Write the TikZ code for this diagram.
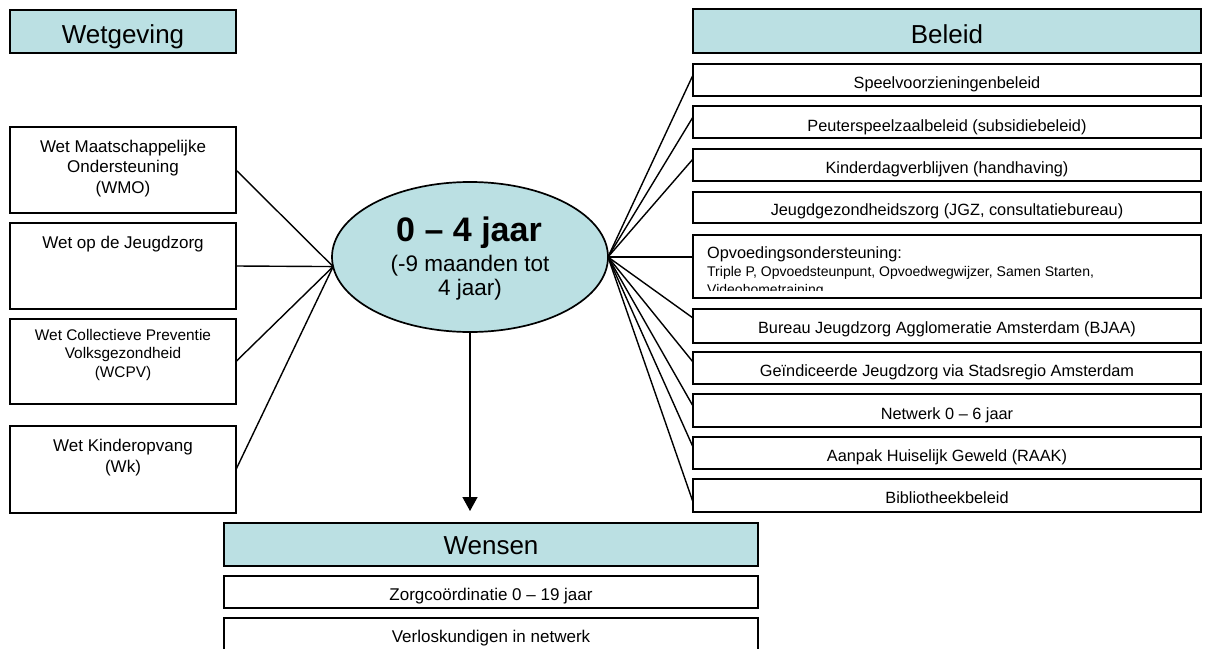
\documentclass[tikz,border=0pt]{standalone}
\usepackage{fontspec}
\setmainfont{Liberation Sans}
\usetikzlibrary{calc,arrows.meta,shapes.geometric}
\definecolor{headfill}{RGB}{187,224,227}
\newcommand{\mkbox}[6]{\node[#6, minimum width={(#4)-(#2)}, minimum height={(#5)-(#3)}] (#1) at ({((#2)+(#4))/2},{((#3)+(#5))/2}) {};}
\begin{document}
\begin{tikzpicture}[x=1pt,y=-1pt,
  plainbox/.style={draw=black, line width=1.7pt, fill=white, rectangle, inner sep=0pt, outer sep=0pt},
  headbox/.style={plainbox, fill=headfill},
  conn/.style={line width=1.4pt, black},
  hdtext/.style={anchor=base, inner sep=0pt, font=\fontsize{26}{30}\selectfont},
  lttext/.style={anchor=base, inner sep=0pt, align=center, font=\fontsize{17}{20.5}\selectfont},
  smtext/.style={anchor=base, inner sep=0pt, align=center, font=\fontsize{15.4}{18.5}\selectfont},
  rttext/.style={anchor=base, inner sep=0pt, font=\fontsize{16.3}{19}\selectfont},
  bttext/.style={anchor=base, inner sep=0pt, font=\fontsize{17}{20}\selectfont}]
\clip (0,0) rectangle (1231,648);
\fill[white] (0,0) rectangle (1231,648);

% headers
\mkbox{wet}{10}{10}{236}{53}{headbox}
\node[hdtext] (wet-t) at ($(wet.north)+(0,33)$) {Wetgeving};
\mkbox{bel}{693}{9}{1201}{53}{headbox}
\node[hdtext] (bel-t) at ($(bel.north)+(0,34)$) {Beleid};
\mkbox{wen}{224}{523}{758}{566}{headbox}
\node[hdtext] (wen-t) at ($(wen.north)+(0,31)$) {Wensen};

% left boxes (base anchor = baseline of last line)
\mkbox{wmo}{10}{127}{236}{213}{plainbox}
\node[lttext] (wmo-t) at ($(wmo.north)+(0,66)$) {Wet Maatschappelijke\\Ondersteuning\\(WMO)};
\mkbox{wjz}{10}{223}{236}{309}{plainbox}
\node[lttext] (wjz-t) at ($(wjz.north)+(0,25)$) {Wet op de Jeugdzorg};
\mkbox{wcpv}{10}{319}{236}{404}{plainbox}
\node[smtext] (wcpv-t) at ($(wcpv.north)+(0,58)$) {Wet Collectieve Preventie\\Volksgezondheid\\(WCPV)};
\mkbox{wk}{10}{426}{236}{513}{plainbox}
\node[lttext] (wk-t) at ($(wk.north)+(0,46)$) {Wet Kinderopvang\\(Wk)};

% right boxes
\mkbox{b1}{693}{64}{1201}{96}{plainbox}
\node[rttext] (b1-t) at ($(b1.north)+(0,24.5)$) {Speelvoorzieningenbeleid};
\mkbox{b2}{693}{106}{1201}{138}{plainbox}
\node[rttext] (b2-t) at ($(b2.north)+(0,25)$) {Peuterspeelzaalbeleid (subsidiebeleid)};
\mkbox{b3}{693}{149}{1201}{181}{plainbox}
\node[rttext] (b3-t) at ($(b3.north)+(0,24.5)$) {Kinderdagverblijven (handhaving)};
\mkbox{b4}{693}{192}{1201}{223}{plainbox}
\node[rttext] (b4-t) at ($(b4.north)+(0,23.5)$) {Jeugdgezondheidszorg (JGZ, consultatiebureau)};
\mkbox{b5}{693}{235}{1201}{298}{plainbox}
\begin{scope}
\clip (694,236) rectangle (1200,290);
\node[anchor=base west, inner sep=0pt, font=\fontsize{16.3}{19}\selectfont] (b5-t1) at (707,258) {Opvoedingsondersteuning:};
\node[anchor=base west, inner sep=0pt, font=\fontsize{14}{17}\selectfont] (b5-t2) at (707,276) {Triple P, Opvoedsteunpunt, Opvoedwegwijzer, Samen Starten,};
\node[anchor=base west, inner sep=0pt, font=\fontsize{14}{17}\selectfont] (b5-t3) at (707,294) {Videohometraining};
\end{scope}
\mkbox{b6}{693}{309}{1201}{343}{plainbox}
\node[rttext] (b6-t) at ($(b6.north)+(0,24.5)$) {Bureau Jeugdzorg Agglomeratie Amsterdam (BJAA)};
\mkbox{b7}{693}{352}{1201}{384}{plainbox}
\node[rttext] (b7-t) at ($(b7.north)+(0,24.5)$) {Geïndiceerde Jeugdzorg via Stadsregio Amsterdam};
\mkbox{b8}{693}{394}{1201}{427}{plainbox}
\node[rttext] (b8-t) at ($(b8.north)+(0,25)$) {Netwerk 0 – 6 jaar};
\mkbox{b9}{693}{437}{1201}{469}{plainbox}
\node[rttext] (b9-t) at ($(b9.north)+(0,24.5)$) {Aanpak Huiselijk Geweld (RAAK)};
\mkbox{b10}{693}{479}{1201}{512}{plainbox}
\node[rttext] (b10-t) at ($(b10.north)+(0,24.5)$) {Bibliotheekbeleid};

% bottom boxes
\mkbox{zc}{224}{576}{758}{608}{plainbox}
\node[bttext] (zc-t) at ($(zc.north)+(0,24)$) {Zorgcoördinatie 0 – 19 jaar};
\mkbox{vk}{224}{618}{758}{680}{plainbox}
\node[bttext] (vk-t) at ($(vk.north)+(0,24.7)$) {Verloskundigen in netwerk};

% central ellipse
\node[ellipse, draw=black, line width=1.7pt, fill=headfill, minimum width=276, minimum height=150, inner sep=0pt, outer sep=0pt] (ell) at (470,257) {};
\node[anchor=base, inner sep=0pt, font=\bfseries\fontsize{34}{38}\selectfont] (ell-t1) at (469,241) {0 – 4 jaar};
\node[anchor=base, inner sep=0pt, font=\fontsize{22.5}{26}\selectfont] (ell-t2) at (470,271) {(-9 maanden tot};
\node[anchor=base, inner sep=0pt, font=\fontsize{22.5}{26}\selectfont] (ell-t3) at (470,295) {4 jaar)};

\coordinate (cl) at (ell.184);
\coordinate (cr) at (ell.east);
\coordinate (tip) at (470,511);

% left connectors
\draw[conn] (wmo.east) -- (cl);
\draw[conn] (wjz.east) -- (cl);
\draw[conn] (wcpv.east) -- (cl);
\draw[conn] (wk.east) -- (cl);

% right connectors
\draw[conn] (cr) -- ($(b1.north west)+(0,11)$);
\draw[conn] (cr) -- ($(b2.north west)+(0,11)$);
\draw[conn] (cr) -- ($(b3.north west)+(0,10)$);
\draw[conn] (cr) -- (b5.west |- cr);
\draw[conn] (cr) -- ($(b6.north west)+(0,9)$);
\draw[conn] (cr) -- ($(b7.north west)+(0,10)$);
\draw[conn] (cr) -- ($(b8.north west)+(0,12)$);
\draw[conn] (cr) -- ($(b9.north west)+(0,10)$);
\draw[conn] (cr) -- ($(b10.north west)+(0,23)$);

% arrow
\draw[conn, -{Triangle[width=15pt,length=14pt]}] (ell.south) -- (tip);
\end{tikzpicture}
\end{document}
